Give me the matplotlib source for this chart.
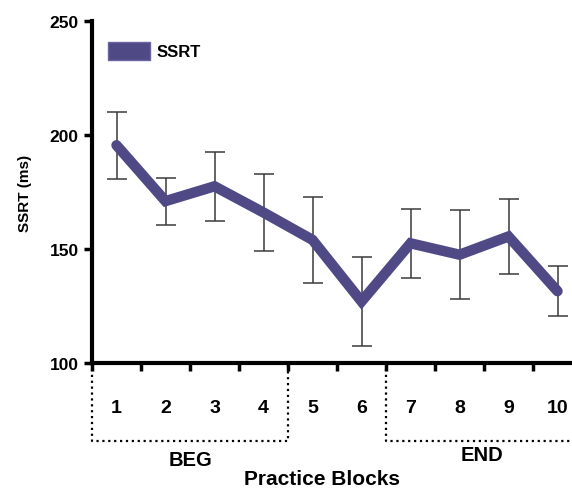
import matplotlib.pyplot as plt
from matplotlib.patches import Patch

blocks = [1, 2, 3, 4, 5, 6, 7, 8, 9, 10]
ssrt = [195.5, 171, 177.5, 166, 154, 127, 152.5, 147.5, 155.5, 131.5]
err = [14.7, 10.3, 15, 17, 19, 19.5, 15, 19.5, 16.5, 11]
yticks = [100, 150, 200, 250]

plt.rcParams['font.family'] = ['Liberation Sans', 'DejaVu Sans']
plt.rcParams['font.weight'] = 'bold'

line_color = '#4f4a85'

fig = plt.figure(figsize=(5.72, 4.89), dpi=100)
ax = fig.add_axes([92 / 572, 125 / 489, 490 / 572, 342 / 489])

ax.errorbar(blocks, ssrt, yerr=err, fmt='none', ecolor='#3a3a3a',
            elinewidth=1.1, capsize=7, capthick=1.1, zorder=2)
ax.plot(blocks, ssrt, color=line_color, lw=7.5, solid_capstyle='round',
        solid_joinstyle='miter', zorder=3)

ax.set_xlim(0.5, 10.5)
ax.set_ylim(100, 250)
ax.set_yticks(yticks)
ax.set_xticks(blocks)
ax.set_xticklabels([str(b) for b in blocks], fontsize=14, fontweight='bold')
ax.set_xticks([b - 0.5 for b in blocks], minor=True)
ax.tick_params(axis='x', which='major', length=0, pad=26)
ax.tick_params(axis='x', which='minor', length=6, width=2.5, direction='out')
ax.tick_params(axis='y', length=6, width=2.5, labelsize=12.5)
for t in ax.get_yticklabels():
    t.set_fontweight('bold')

for s in ['top', 'right']:
    ax.spines[s].set_visible(False)
for s in ['left', 'bottom']:
    ax.spines[s].set_linewidth(3)

ax.set_ylabel('SSRT (ms)', fontsize=11, fontweight='bold', labelpad=13)

# dotted group boxes under the axis
ax.plot([0.5, 0.5, 4.5, 4.5], [100, 66, 66, 100], ls=':', lw=1.6,
        color='black', clip_on=False)
ax.plot([6.5, 6.5, 10.6], [100, 66, 66], ls=':', lw=1.6,
        color='black', clip_on=False)

ax.text(2.5, 57.5, 'BEG', ha='center', va='center', fontsize=14.5,
        fontweight='bold')
ax.text(8.45, 60, 'END', ha='center', va='center', fontsize=14.5,
        fontweight='bold')
ax.text(5.2, 49.5, 'Practice Blocks', ha='center', va='center',
        fontsize=15, fontweight='bold')

handle = Patch(facecolor=line_color, edgecolor='#6a64a0', lw=1)
ax.legend([handle], ['SSRT'], loc='upper left',
          bbox_to_anchor=(0.033, 0.94), frameon=False, borderpad=0,
          borderaxespad=0, handlelength=2.5, handleheight=1.35,
          handletextpad=0.4, prop={'size': 12, 'weight': 'bold'})

plt.savefig('out.png', dpi=100)
